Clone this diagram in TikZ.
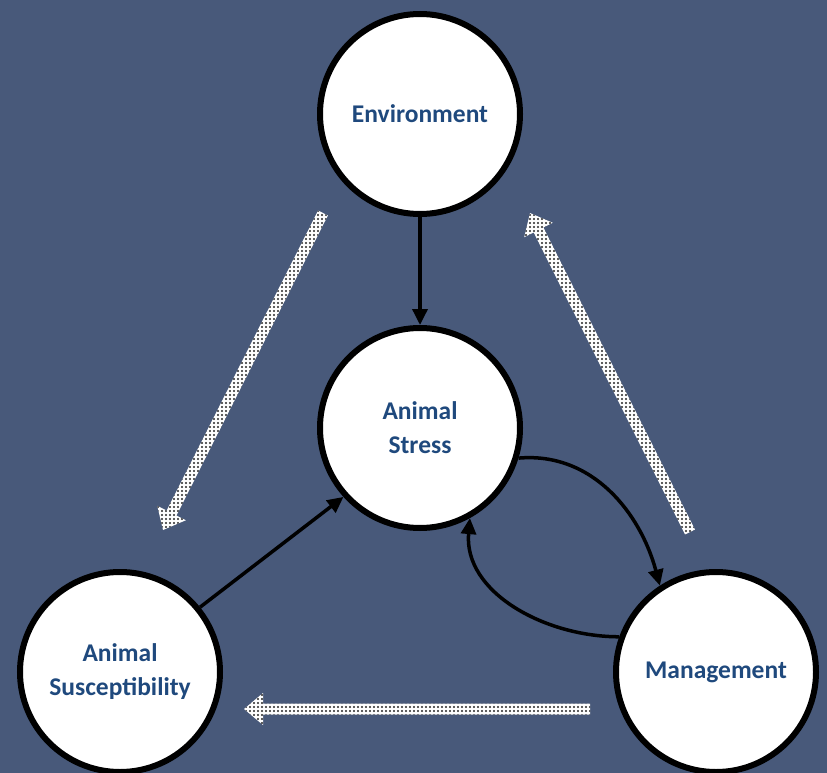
\documentclass[tikz,border=0pt]{standalone}
\usepackage{fontspec}
\setmainfont{Carlito}
\usepackage{xcolor}
\definecolor{ColBg}{RGB}{72,89,122}
\definecolor{ColTxt}{RGB}{31,73,125}
\usepackage{tikz}
\usetikzlibrary{calc}
\usetikzlibrary{patterns}
\usetikzlibrary{arrows.meta}
\pgfdeclarepatternformonly{FatDots}{\pgfpoint{-1pt}{-1pt}}{\pgfpoint{5pt}{5pt}}
  {\pgfpoint{4pt}{4pt}}{\pgfpathcircle{\pgfpoint{2pt}{2pt}}{1.2pt}\pgfusepath{fill}}
\tikzstyle{Factor}=[circle,draw=black,fill=white,line width=6pt,
minimum size=200pt,inner sep=0pt,align=center,text=ColTxt,
font=\fontsize{25.5}{34}\selectfont\bfseries]
\tikzstyle{Edge}=[draw=black,line width=3.5pt,-{Triangle[length=16pt,width=15pt]}]
\tikzstyle{Fat}=[draw=none,preaction={fill=white},pattern=FatDots,
pattern color=black!85]
% fat dotted arrow from #1 to #2
\newcommand{\FatArrow}[2]{
  \coordinate (h) at ($(#2)!19pt!(#1)$);
  \fill[Fat] ($(#1)!5.5pt!90:(#2)$) -- ($(h)!5.5pt!90:(#2)$)
    -- ($(h)!16pt!90:(#2)$) -- (#2) -- ($(h)!16pt!-90:(#2)$)
    -- ($(h)!5.5pt!-90:(#2)$) -- ($(#1)!5.5pt!-90:(#2)$) -- cycle;
}

\begin{document}
\begin{tikzpicture}[x=1pt,y=-1pt]
        \fill[ColBg](0,0)rectangle(827,773);
        \useasboundingbox(0,0)rectangle(827,773);
        \node[Factor](env)at(420,114){Environment};
        \node[Factor](stress)at(420,428){Animal\\Stress};
        \node[Factor](susc)at(120,672){Animal\\Susceptibility};
        \node[Factor](mgmt)at(716,672){Management};
        \draw[Edge](env)--(stress);
        \draw[Edge](susc.39)--(stress.-138);
        \draw[Edge](stress.-17) to[out=5,in=105] (mgmt.123);
        \draw[Edge](mgmt.160) to[out=180,in=-95] (stress.-61);
        \coordinate(a1)at(323,213);
        \coordinate(b1)at(163,530);
        \coordinate(a2)at(690,532);
        \coordinate(b2)at(530,213);
        \coordinate(a3)at(590,709);
        \coordinate(b3)at(244,709);
        \FatArrow{a1}{b1}
        \FatArrow{a2}{b2}
        \FatArrow{a3}{b3}
    \end{tikzpicture}
\end{document}
